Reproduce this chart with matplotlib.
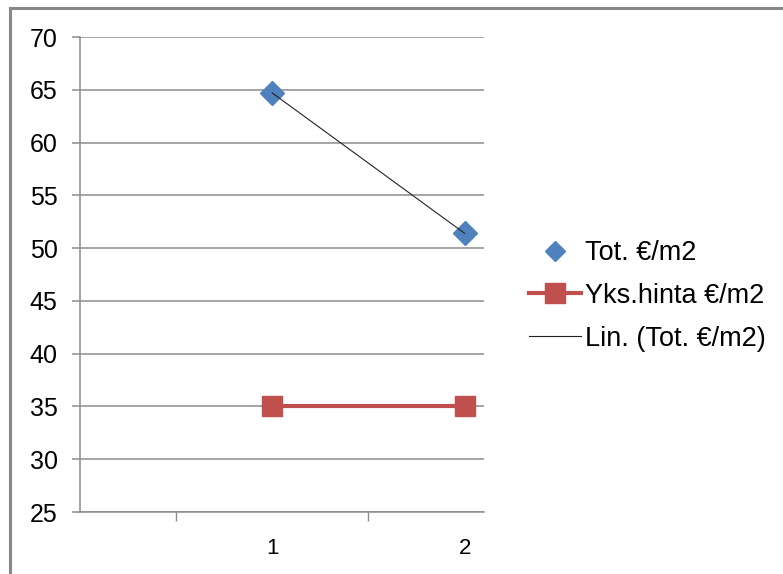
import numpy as np
import matplotlib
matplotlib.use("Agg")
import matplotlib.pyplot as plt
from matplotlib.lines import Line2D
from matplotlib.ticker import FixedLocator, NullFormatter

plt.rcParams['font.family'] = ['Liberation Sans', 'DejaVu Sans']

# data
periods = [1, 2]
tot_per_m2 = [64.7, 51.4]
unit_price_per_m2 = [35, 35]
y_ticks = [25, 30, 35, 40, 45, 50, 55, 60, 65, 70]

label_tot = 'Tot. €/m2'
label_unit = 'Yks.hinta €/m2'
label_trend = 'Lin. (Tot. €/m2)'

blue = '#4F81BD'
red = '#C0504D'
grid_grey = '#8C8C8C'

fig = plt.figure(figsize=(7.83, 5.74), dpi=100)
ax = fig.add_axes([0.102, 0.108, 0.516, 0.8275])

# linear trend through the totals
coef = np.polyfit(periods, tot_per_m2, 1)
trend = np.polyval(coef, periods)

ax.plot(periods, tot_per_m2, linestyle='none', marker='D', markersize=12,
        color=blue, zorder=3, label=label_tot)
ax.plot(periods, unit_price_per_m2, color=red, linewidth=3, marker='s',
        markersize=15, zorder=3, label=label_unit)
ax.plot(periods, trend, color='#222222', linewidth=0.8, zorder=4, label=label_trend)

ax.set_xlim(0, 2.1)
ax.set_ylim(25, 70)
ax.set_yticks(y_ticks)
ax.yaxis.grid(True, color=grid_grey, linewidth=1.1)
ax.set_axisbelow(True)

# category ticks sit between categories, labels under the categories
ax.xaxis.set_major_locator(FixedLocator([0.5, 1.5]))
ax.xaxis.set_major_formatter(NullFormatter())
ax.xaxis.set_minor_locator(FixedLocator(periods))
ax.set_xticklabels([str(p) for p in periods], minor=True)
ax.tick_params(axis='x', which='major', length=6.5, width=1, color=grid_grey, direction='out')
ax.tick_params(axis='x', which='minor', length=0, pad=19, labelsize=16)
ax.tick_params(axis='y', length=6, width=1.1, color=grid_grey, pad=10, labelsize=18)

for side in ['top', 'right']:
    ax.spines[side].set_visible(False)
for side in ['left', 'bottom']:
    ax.spines[side].set_color(grid_grey)
    ax.spines[side].set_linewidth(1.1)

leg = ax.legend(loc='center left', bbox_to_anchor=(1.085, 0.455), frameon=False,
                fontsize=19.5, handlelength=1.9, handletextpad=0.15, labelspacing=0.62,
                borderaxespad=0)
leg.legend_handles[0].set_markersize(10)

# outer chart frame (top and left edges)
fig.add_artist(Line2D([0.0128, 1.0], [0.986, 0.986], color='#888888', linewidth=2.2,
                      transform=fig.transFigure))
fig.add_artist(Line2D([0.0128, 0.0128], [0.0, 0.986], color='#888888', linewidth=2.2,
                      transform=fig.transFigure))

fig.savefig('out.png', dpi=100)
